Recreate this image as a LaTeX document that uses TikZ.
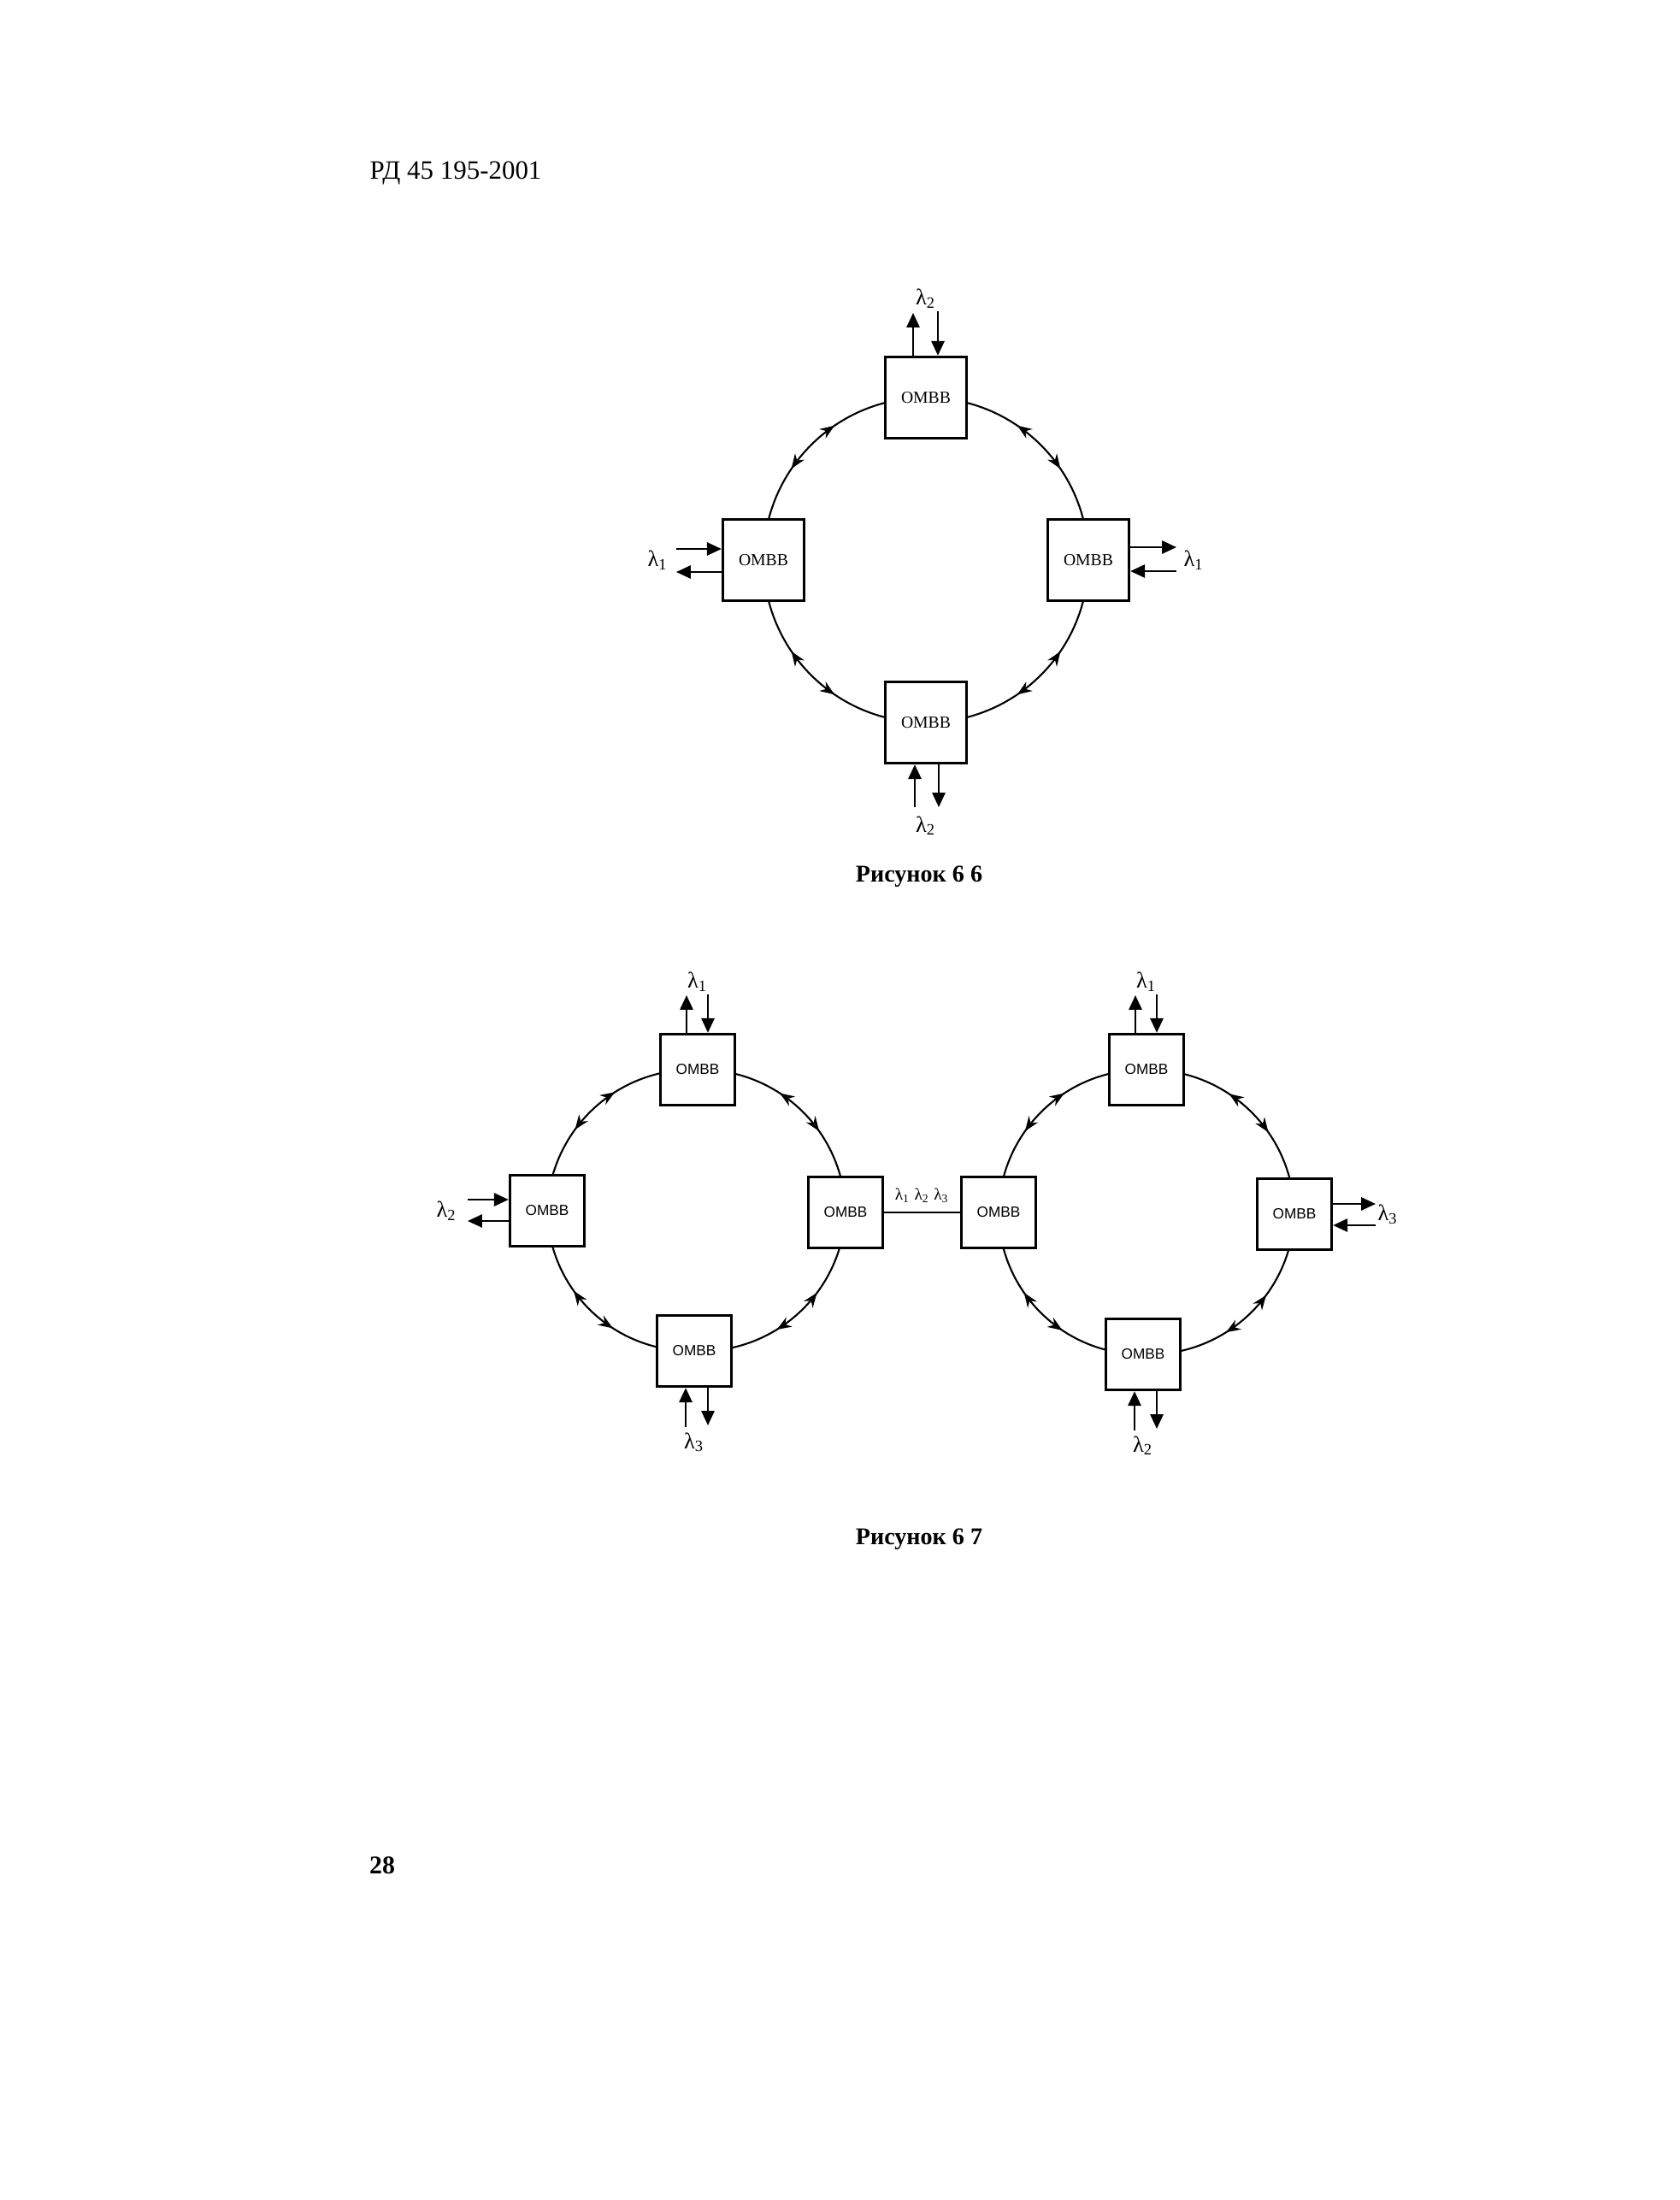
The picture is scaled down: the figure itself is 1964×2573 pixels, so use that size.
\documentclass[tikz,border=0pt]{standalone}
\usepackage{fontspec}
\setmainfont{Liberation Serif}
\newfontfamily\arialfont{Liberation Sans}
\usetikzlibrary{arrows.meta,positioning,decorations.markings,backgrounds}

\begin{document}
\begin{tikzpicture}[x=0.1mm,y=-0.1mm,>={Triangle[length=1.7mm,width=1.5mm]},
 box/.style={draw,line width=0.9pt,fill=white,minimum width=9.5mm,minimum height=9.5mm,inner sep=0pt,font=\fontsize{5.6}{6}\selectfont},
 sbox/.style={draw,line width=0.9pt,fill=white,minimum width=8.7mm,minimum height=8.3mm,inner sep=0pt,font=\arialfont\fontsize{4.9}{5}\selectfont},
 ring/.style={line width=0.6pt,decoration={markings,
   mark=at position 0.38 with {\arrowreversed{Stealth[length=1.7mm,width=1.3mm]}},
   mark=at position 0.62 with {\arrow{Stealth[length=1.7mm,width=1.3mm]}}},postaction={decorate}},
 lam/.style={line width=0.8pt},
 lbl/.style={inner sep=0.5pt,font=\fontsize{7.5}{8}\selectfont},
 capt/.style={font=\bfseries\fontsize{8}{9}\selectfont}]
\useasboundingbox (0,0) rectangle (1964,2573);
\node[font=\fontsize{8.8}{10}\selectfont] (head) at (533,203) {РД 45 195-2001};
\node[font=\bfseries\fontsize{8.5}{10}\selectfont] (page) at (447,2182) {28};
% Рисунок 6.6
\node[box] (t1) at (1083,465) {ОМВВ};
\node[box] (r1) at (1273,655) {ОМВВ};
\node[box] (b1) at (1083,845) {ОМВВ};
\node[box] (l1) at (893,655) {ОМВВ};
\draw[lam,->] ([shift={(-15,0)}]t1.north) -- ++(0,-50);
\draw[lam,<-] ([shift={(14,0)}]t1.north) -- ++(0,-52);
\node[lbl,above=5.3mm of t1] (lt1) {λ\textsubscript{2}};
\draw[lam,<-] ([shift={(0,-13)}]l1.west) -- ++(-53,0);
\draw[lam,->] ([shift={(0,14)}]l1.west) -- ++(-53,0);
\node[lbl,left=6mm of l1] (ll1) {λ\textsubscript{1}};
\draw[lam,->] ([shift={(0,-15)}]r1.east) -- ++(54,0);
\draw[lam,<-] ([shift={(0,13)}]r1.east) -- ++(54,0);
\node[lbl,right=6mm of r1] (lr1) {λ\textsubscript{1}};
\draw[lam,<-] ([shift={(-13,0)}]b1.south) -- ++(0,50);
\draw[lam,->] ([shift={(15,0)}]b1.south) -- ++(0,50);
\node[lbl,below=5.8mm of b1] (lb1) {λ\textsubscript{2}};
\node[capt] (cap1) at (1075,1025) {Рисунок 6 6};
% Рисунок 6.7
\node[sbox] (ta) at (816,1251) {ОМВВ};
\node[sbox] (ra) at (989,1418) {ОМВВ};
\node[sbox] (ba) at (812,1580) {ОМВВ};
\node[sbox] (la) at (640,1416) {ОМВВ};
\node[sbox] (tb) at (1341,1251) {ОМВВ};
\node[sbox] (rb) at (1514,1420) {ОМВВ};
\node[sbox] (bb) at (1337,1584) {ОМВВ};
\node[sbox] (lb) at (1168,1418) {ОМВВ};
\draw[line width=0.6pt] (ra) -- node[above=1mm,inner sep=0pt,font=\fontsize{5.5}{6}\selectfont]{λ\textsubscript{1} λ\textsubscript{2} λ\textsubscript{3}} (lb);
\draw[lam,->] ([shift={(-13,0)}]ta.north) -- ++(0,-44);
\draw[lam,<-] ([shift={(12,0)}]ta.north) -- ++(0,-45);
\node[lbl,above=4.6mm of ta] (lta) {λ\textsubscript{1}};
\draw[lam,<-] ([shift={(0,-13)}]la.west) -- ++(-48,0);
\draw[lam,->] ([shift={(0,12)}]la.west) -- ++(-48,0);
\node[lbl,left=5.8mm of la] (lla) {λ\textsubscript{2}};
\draw[lam,<-] ([shift={(-10,0)}]ba.south) -- ++(0,46);
\draw[lam,->] ([shift={(16,0)}]ba.south) -- ++(0,44);
\node[lbl,below=5mm of ba] (lba) {λ\textsubscript{3}};
\draw[lam,->] ([shift={(-13,0)}]tb.north) -- ++(0,-44);
\draw[lam,<-] ([shift={(12,0)}]tb.north) -- ++(0,-45);
\node[lbl,above=4.6mm of tb] (ltb) {λ\textsubscript{1}};
\draw[lam,->] ([shift={(0,-12)}]rb.east) -- ++(50,0);
\draw[lam,<-] ([shift={(0,13)}]rb.east) -- ++(50,0);
\node[lbl,right=5mm of rb] (lrb) {λ\textsubscript{3}};
\draw[lam,<-] ([shift={(-10,0)}]bb.south) -- ++(0,46);
\draw[lam,->] ([shift={(16,0)}]bb.south) -- ++(0,44);
\node[lbl,below=5mm of bb] (lbb) {λ\textsubscript{2}};
\node[capt] (cap2) at (1075,1800) {Рисунок 6 7};
% rings behind the boxes
\begin{scope}[on background layer]
\fill[white] (0,0) rectangle (1964,2573);
\foreach \a/\b in {t1/r1,r1/b1,b1/l1,l1/t1,ta/ra,ra/ba,ba/la,la/ta,tb/rb,rb/bb,bb/lb,lb/tb}{\draw[ring] (\a.center) to[bend left=45] (\b.center);}
\end{scope}
\end{tikzpicture}
\end{document}
